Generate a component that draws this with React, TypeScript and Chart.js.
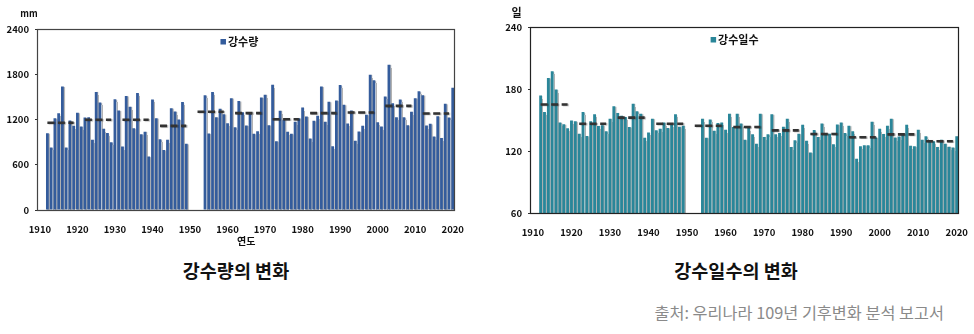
import React, { useEffect, useRef } from 'react';
import { Chart, registerables } from 'chart.js';

Chart.register(...registerables);

// ---------- DATA ----------
const firstYear = 1910;
const lastYear = 2020;
const xTickLabels = ['1910', '1920', '1930', '1940', '1950', '1960', '1970', '1980', '1990', '2000', '2010', '2020'];

// 강수량 (mm), 1912–1949
const precipEarly = [
  1018, 830, 1215, 1284, 1638, 830, 1187, 1118, 1290,
  1107, 1225, 1231, 930, 1565, 1426, 1078, 1020, 900, 1468,
  1320, 841, 1512, 1368, 1083, 1550, 1003, 1036, 708, 1466,
  1218, 939, 795, 930, 1350, 1306, 1200, 1432, 877,
];
// 강수량 (mm), 1954–2020
const precipLate = [
  1523, 1014, 1563, 1231, 1342, 1271, 1151,
  1483, 1098, 1444, 1297, 1120, 1293, 1010, 1045, 1492, 1528,
  1125, 1660, 912, 1315, 1196, 1036, 1010, 1169, 1218, 1359,
  1240, 948, 1182, 1249, 1638, 1169, 1435, 846, 1452, 1656,
  1395, 1147, 1320, 917, 1041, 1116, 1262, 1793, 1722, 1165,
  1107, 1505, 1926, 1417, 1231, 1466, 1231, 1125, 1302, 1483,
  1576, 1523, 1120, 1142, 974, 1244, 956, 1408, 1227, 1621,
];

// 강수일수 (일), 1912–1949
const daysEarly = [
  173.6, 157.7, 190.7, 197.1, 179.4, 147.5, 145.8, 141.9, 149.4,
  148.7, 136.8, 157.7, 134.5, 148.7, 155.5, 144.2, 144.8, 139, 151.3,
  163.2, 156.8, 154.2, 152.9, 143.2, 165.8, 158.4, 156.1, 132.9, 138,
  151.3, 140, 141.6, 147.5, 142.3, 145.8, 155.5, 143.5, 144.5,
];
// 강수일수 (일), 1954–2020
const daysLate = [
  151.3, 132.9, 150.6, 139.7, 147.1, 147.7, 140.6,
  156.1, 143.2, 156.1, 146.5, 131.0, 142.3, 136.1, 127.1, 156.1, 133.6,
  136.1, 155.5, 136.1, 137.4, 143.5, 151.3, 123.9, 130.5, 136.8, 145.5,
  130, 118.5, 140.3, 133.6, 146.5, 136.8, 136.8, 126.5, 145.6, 147.5,
  137.4, 144.5, 139, 112.5, 124.5, 125.5, 125.5, 148.2, 133, 141.6,
  136.5, 144.5, 151.3, 133, 134, 137, 145.5, 125, 124.5, 140.6,
  131, 134.2, 130, 129.4, 123.9, 131, 127.1, 124.2, 123.3, 134.2,
];

const earlyStart = 1912;
const lateStart = 1954;

// decade averages (dashed lines): first and last year each dash segment covers
const decadeSegStart = [1912, 1922, 1932, 1942, 1952, 1962, 1972, 1982, 1992, 2002, 2012];
const decadeSegEnd = [1919, 1929, 1939, 1949, 1959, 1969, 1979, 1989, 1999, 2009, 2019];
const precipDecadeMeans = [1156, 1196, 1196, 1116, 1302, 1284, 1204, 1284, 1293, 1381, 1280];
const daysDecadeMeans = [165, 146.3, 152.3, 146.3, 144.5, 143.2, 140, 136.5, 133.3, 136.1, 129.4];

// ---------- helpers ----------
const years: number[] = [];
for (let y = firstYear; y <= lastYear; y++) years.push(y);

function buildSeries(early: number[], late: number[]) {
  return years.map((y) => {
    const i = y - earlyStart;
    if (i >= 0 && i < early.length) return early[i];
    const j = y - lateStart;
    if (j >= 0 && j < late.length) return late[j];
    return null;
  });
}

function buildSegments(means: number[]) {
  return years.map((y) => {
    const k = decadeSegStart.findIndex((s, idx) => y >= s && y <= decadeSegEnd[idx]);
    return k >= 0 ? means[k] : null;
  });
}

const FONT = "'Noto Sans CJK KR', 'Noto Sans', sans-serif";

const overlayPlugin = {
  id: 'overlay',
  beforeDatasetDraw(chart: any) {
    const ctx = chart.ctx;
    ctx.save();
    ctx.shadowColor = 'rgba(0,0,0,0.3)';
    ctx.shadowOffsetX = 1.2;
    ctx.shadowOffsetY = 0.5;
    ctx.shadowBlur = 0.8;
  },
  afterDatasetDraw(chart: any) {
    chart.ctx.restore();
  },
  afterDraw(chart: any, _a: any, opts: any) {
    const { ctx, chartArea } = chart;
    const { left, top, right, bottom } = chartArea;
    ctx.save();
    // frame
    ctx.strokeStyle = opts.frameColor;
    ctx.lineWidth = 1.2;
    ctx.strokeRect(Math.round(left) - 0.5, Math.round(top) + 0.5, Math.round(right - left), Math.round(bottom - top));
    // legend
    const lx = left + (right - left) * opts.legendFrac;
    const ly = top + opts.legendDy;
    ctx.fillStyle = opts.legendColor;
    ctx.fillRect(lx, ly - 3, 5.5, 5.5);
    ctx.fillStyle = '#111';
    ctx.font = `bold 11px ${FONT}`;
    ctx.textBaseline = 'middle';
    ctx.textAlign = 'left';
    ctx.fillText(opts.legendText, lx + 7.5, ly);
    // unit
    ctx.font = opts.unitFont;
    ctx.textAlign = 'center';
    ctx.fillText(opts.unitText, opts.unitX, opts.unitY);
    ctx.restore();
  },
};

function makeConfig(p: any) {
  return {
    type: 'bar',
    data: {
      labels: years.map(String),
      datasets: [
        {
          type: 'line',
          data: buildSegments(p.means),
          borderColor: '#333',
          borderWidth: 2.6,
          borderDash: [7, 3.5],
          pointRadius: 0,
          fill: false,
          spanGaps: false,
          order: 0,
        },
        {
          type: 'bar',
          data: buildSeries(p.early, p.late),
          backgroundColor: p.barColor,
          barPercentage: p.barPct,
          categoryPercentage: 1,
          order: 1,
        },
      ],
    },
    options: {
      responsive: false,
      animation: false,
      events: [],
      layout: { padding: p.padding },
      plugins: {
        legend: { display: false },
        tooltip: { enabled: false },
        overlay: p.overlay,
      },
      scales: {
        x: {
          type: 'category',
          offset: true,
          grid: { display: false },
          border: { display: false },
          ticks: {
            autoSkip: false,
            maxRotation: 0,
            padding: 6,
            color: '#111',
            font: { family: FONT, size: 9.5, weight: 'bold' },
            callback: (_v: any, i: number) => (xTickLabels.includes(String(years[i])) ? String(years[i]) : null),
          },
          title: p.xTitle
            ? { display: true, text: p.xTitle, color: '#111', font: { family: FONT, size: 10, weight: 'bold' }, padding: { top: 0, bottom: 3 } }
            : { display: false },
          afterFit: (s: any) => { s.height = p.xHeight; },
        },
        y: {
          min: p.yMin,
          max: p.yMax,
          grid: { display: true, drawOnChartArea: false, drawTicks: true, tickLength: 3, color: '#333' },
          border: { display: false },
          ticks: {
            stepSize: p.yStep,
            padding: 6,
            color: '#111',
            font: { family: FONT, size: 9.5, weight: 'bold' },
            callback: (v: any) => String(v),
          },
          afterFit: (s: any) => { s.width = p.yWidth; },
        },
      },
    },
    plugins: [overlayPlugin],
  };
}

function ChartCanvas({ config, width, height, left, top }: any) {
  const ref = useRef<HTMLCanvasElement | null>(null);
  useEffect(() => {
    if (!ref.current) return;
    const chart = new Chart(ref.current, config);
    return () => chart.destroy();
  }, []);
  return (
    <canvas
      ref={ref}
      width={width}
      height={height}
      style={{ position: 'absolute', left, top, width, height }}
    />
  );
}

export default function App() {
  const leftCfg = makeConfig({
    early: precipEarly,
    late: precipLate,
    means: precipDecadeMeans,
    barColor: '#345C9C',
    barPct: 0.74,
    yMin: 0,
    yMax: 2400,
    yStep: 600,
    yWidth: 38,
    xHeight: 40,
    xTitle: '연도',
    padding: { top: 29, right: 13, left: 0, bottom: 0 },
    overlay: {
      frameColor: '#444',
      legendFrac: 0.438,
      legendDy: 13,
      legendColor: '#345C9C',
      legendText: '강수량',
      unitText: 'mm',
      unitFont: `bold 9px ${FONT}`,
      unitX: 29,
      unitY: 14,
    },
  });
  const rightCfg = makeConfig({
    early: daysEarly,
    late: daysLate,
    means: daysDecadeMeans,
    barColor: '#2A8699',
    barPct: 0.74,
    yMin: 60,
    yMax: 240,
    yStep: 60,
    yWidth: 41,
    xHeight: 32,
    xTitle: null,
    padding: { top: 27, right: 12, left: 0, bottom: 0 },
    overlay: {
      frameColor: '#222',
      legendFrac: 0.42,
      legendDy: 13,
      legendColor: '#2A8699',
      legendText: '강수일수',
      unitFont: `bold 11px ${FONT}`,
      unitText: '일',
      unitX: 26.5,
      unitY: 13,
    },
  });

  return (
    <div style={{ position: 'absolute', left: 0, top: 0, width: 974, height: 334, background: '#fff', fontFamily: FONT }}>
      <ChartCanvas config={leftCfg} width={470} height={250} left={0} top={0} />
      <ChartCanvas config={rightCfg} width={484} height={245} left={490} top={0} />
      <div style={{ position: 'absolute', left: 86, top: 258, width: 300, textAlign: 'center', fontSize: 18.5, lineHeight: '24px', fontWeight: 700, color: '#111' }}>
        강수량의 변화
      </div>
      <div style={{ position: 'absolute', left: 586, top: 258, width: 300, textAlign: 'center', fontSize: 18.5, lineHeight: '24px', fontWeight: 700, color: '#111' }}>
        강수일수의 변화
      </div>
      <div style={{ position: 'absolute', right: 30, top: 301, whiteSpace: 'nowrap', fontSize: 16.3, lineHeight: '22px', fontWeight: 400, color: '#8a8a8a' }}>
        출처: 우리나라 109년 기후변화 분석 보고서
      </div>
    </div>
  );
}
